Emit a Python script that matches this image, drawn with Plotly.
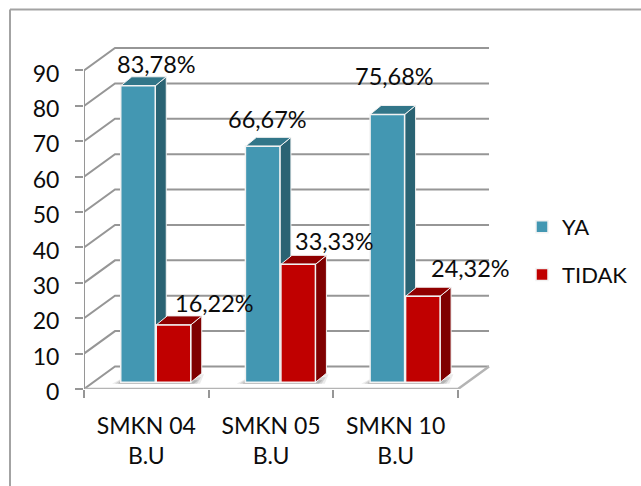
import plotly.graph_objects as go

categories = ["SMKN 04<br>B.U", "SMKN 05<br>B.U", "SMKN 10<br>B.U"]
ya_values = [83.78, 66.67, 75.68]
tidak_values = [16.22, 33.33, 24.32]
tick_values = [0, 10, 20, 30, 40, 50, 60, 70, 80, 90]

# Page geometry of the plot area, in pixels
WIDTH, HEIGHT = 641, 486
LEFT, RIGHT, TOP, BOTTOM = 84, 490, 47, 389
PX_PER_CAT = 124.67
PX_PER_UNIT = 3.539
FONT = "Lato"
TEXT = "#0c0c0c"
GRID = "#969696"


def ux(px):
    return px / PX_PER_CAT


def uy(px):
    return px / PX_PER_UNIT


# Oblique projection: wall depth, bar depth and how far bars sit off the front edge
WALL_DX, WALL_DY = ux(31), uy(22.5)
BAR_DX, BAR_DY = ux(11), uy(9)
BAR_W = ux(34.5)
BAR_BASE = uy(6.7)
YA_CENTER = ux(54)
TIDAK_CENTER = ux(89.5)


def polys(points_fn, centers, values):
    xs, ys = [], []
    for c, v in zip(centers, values):
        px, py = points_fn(c - BAR_W / 2, c + BAR_W / 2, BAR_BASE + v)
        xs += px + [None]
        ys += py + [None]
    return xs, ys


def side(x0, x1, top):
    return ([x1, x1 + BAR_DX, x1 + BAR_DX, x1, x1],
            [BAR_BASE, BAR_BASE + BAR_DY, top + BAR_DY, top, BAR_BASE])


def cap(x0, x1, top):
    return ([x0, x0 + BAR_DX, x1 + BAR_DX, x1, x0],
            [top, top + BAR_DY, top + BAR_DY, top, top])


def face(fig, fn, centers, values, fill, z):
    xs, ys = polys(fn, centers, values)
    fig.add_trace(go.Scatter(x=xs, y=ys, mode="lines", fill="toself", fillcolor=fill,
                             line=dict(color="#f2f2f2", width=1), showlegend=False,
                             hoverinfo="skip", zorder=z, cliponaxis=False))


fig = go.Figure()
n = len(categories)

# Gridlines run along the side wall and then across the back wall
for v in tick_values:
    fig.add_trace(go.Scatter(x=[0, WALL_DX, n + WALL_DX], y=[v, v + WALL_DY, v + WALL_DY],
                             mode="lines", line=dict(color=GRID, width=2), showlegend=False,
                             hoverinfo="skip", zorder=0, cliponaxis=False))

# Floor outline and the vertical front axis
fig.add_trace(go.Scatter(x=[0, n, n + WALL_DX], y=[0, 0, WALL_DY], mode="lines",
                         line=dict(color="#b4b4b4", width=2.5), showlegend=False,
                         hoverinfo="skip", zorder=0, cliponaxis=False))
fig.add_trace(go.Scatter(x=[0, 0], y=[0, tick_values[-1]], mode="lines",
                         line=dict(color=GRID, width=2), showlegend=False,
                         hoverinfo="skip", zorder=0, cliponaxis=False))

# Soft floor shadow beneath each cluster, built from stacked translucent layers
for spread, alpha in ((8, 0.14), (5, 0.2), (2, 0.3)):
    sx, sy = [], []
    for i in range(n):
        x0, x1 = i + ux(36 - spread), i + ux(108 + spread)
        sx += [x0, x0 + ux(spread + 4), x1 + ux(4), x1, x0, None]
        sy += [BAR_BASE - uy(1.5), BAR_BASE + uy(5), BAR_BASE + uy(spread), BAR_BASE - uy(1.5), BAR_BASE - uy(1.5), None]
    fig.add_trace(go.Scatter(x=sx, y=sy, mode="lines", fill="toself",
                             fillcolor=f"rgba(110,110,110,{alpha})", line=dict(width=0),
                             showlegend=False, hoverinfo="skip", zorder=1))

ya_centers = [i + YA_CENTER for i in range(n)]
tidak_centers = [i + TIDAK_CENTER for i in range(n)]

face(fig, side, ya_centers, ya_values, "#2a6373", 2)
face(fig, cap, ya_centers, ya_values, "#327689", 2)
fig.add_trace(go.Bar(x=ya_centers, y=ya_values, base=BAR_BASE, width=BAR_W, name="YA",
                     legendgroup="ya", marker=dict(color="#4397b2", line=dict(color="#f2f2f2", width=1.5)),
                     zorder=3))
face(fig, side, tidak_centers, tidak_values, "#7f0000", 4)
face(fig, cap, tidak_centers, tidak_values, "#900000", 4)
fig.add_trace(go.Bar(x=tidak_centers, y=tidak_values, base=BAR_BASE, width=BAR_W, name="TIDAK",
                     legendgroup="tidak", marker=dict(color="#c00000", line=dict(color="#f2f2f2", width=1.5)),
                     zorder=5))

# Value labels, nudged clear of the bars
ya_shift = [(18, 22), (4.5, 27), (7, 38)]
tidak_shift = [(41, 22), (36, 23), (48, 28)]
for centers, values, shifts in ((ya_centers, ya_values, ya_shift),
                                (tidak_centers, tidak_values, tidak_shift)):
    for c, v, (dx, dy) in zip(centers, values, shifts):
        fig.add_annotation(x=c, y=BAR_BASE + v, text=f"{v:.2f}".replace(".", ",") + "%",
                           showarrow=False, xshift=dx, yshift=dy,
                           font=dict(family=FONT, size=23.5, color=TEXT))


def paper_x(px):
    return (px - LEFT) / (RIGHT - LEFT)


def paper_y(py):
    return (BOTTOM - py) / (BOTTOM - TOP)


# Chart frame: open towards the right and bottom page edges
fig.add_shape(type="line", xref="paper", yref="paper", x0=paper_x(10), x1=paper_x(10),
              y0=paper_y(9.5), y1=paper_y(HEIGHT), line=dict(color="#a3a3a3", width=2))
fig.add_shape(type="line", xref="paper", yref="paper", x0=paper_x(10), x1=paper_x(WIDTH),
              y0=paper_y(9.5), y1=paper_y(9.5), line=dict(color="#a3a3a3", width=2))

fig.update_layout(
    width=WIDTH, height=HEIGHT, autosize=False,
    margin=dict(l=LEFT, r=WIDTH - RIGHT, t=TOP, b=HEIGHT - BOTTOM, pad=0),
    paper_bgcolor="white", plot_bgcolor="white",
    barmode="overlay", font=dict(family=FONT, size=23, color=TEXT),
    legend=dict(xref="container", yref="container", x=522 / WIDTH, y=1 - 206 / HEIGHT,
                xanchor="left", yanchor="top", tracegroupgap=16,
                font=dict(family=FONT, size=22, color=TEXT), bgcolor="rgba(0,0,0,0)"),
    xaxis=dict(range=[0, (RIGHT - LEFT) / PX_PER_CAT], tickmode="array",
               tickvals=[i + 0.5 for i in range(n)], ticktext=categories, ticks="",
               showgrid=False, zeroline=False, showline=False, ticklabelstandoff=21,
               automargin=False,
               minor=dict(tickmode="array", tickvals=list(range(n + 1)), ticks="outside",
                          ticklen=8, tickwidth=2, tickcolor=GRID, showgrid=False)),
    yaxis=dict(range=[0, (BOTTOM - TOP) / PX_PER_UNIT], tickmode="array", tickvals=tick_values,
               ticks="outside", ticklen=8, tickwidth=2, tickcolor=GRID, showgrid=False,
               zeroline=False, showline=False, ticklabelstandoff=11, ticklabelshift=3,
               automargin=False),
)

fig.write_html("out.html")
